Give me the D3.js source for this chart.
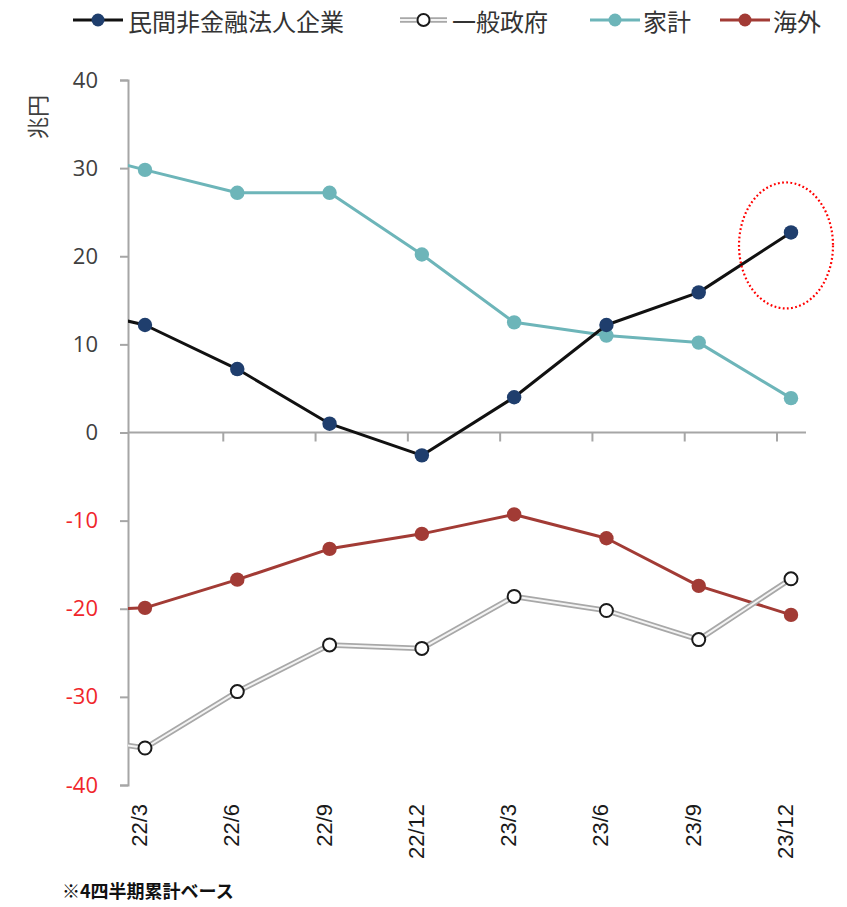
<!DOCTYPE html>
<html>
<head>
<meta charset="utf-8">
<script src="https://cdn.jsdelivr.net/npm/d3@7"></script>
<style>
  html, body { margin: 0; padding: 0; background: #fff; }
  svg { display: block; }
</style>
</head>
<body>
<svg id="chart" width="847" height="907"></svg>
<script>
// Quarter-end periods (4-quarter cumulative)
const periods = ["22/3", "22/6", "22/9", "22/12", "23/3", "23/6", "23/9", "23/12"];
// Value for the quarter before the first label (21/12); the line runs in from the axis edge
const priorPeriod = "21/12";

// 兆円
const corporate  = [12.2, 7.2, 1.0, -2.6, 4.0, 12.2, 15.9, 22.7];
const government = [-35.8, -29.4, -24.1, -24.5, -18.6, -20.2, -23.5, -16.6];
const household  = [29.8, 27.2, 27.2, 20.2, 12.5, 11.0, 10.2, 3.9];
const overseas   = [-19.9, -16.7, -13.2, -11.5, -9.3, -12.0, -17.4, -20.7];

const corporatePrior  = 14.6;
const governmentPrior = -34.3;
const householdPrior  = 32.5;
const overseasPrior   = -20.3;

const yTicks = [40, 30, 20, 10, 0, -10, -20, -30, -40];
const seriesNames = ["民間非金融法人企業", "一般政府", "家計", "海外"];
const unitLabel = "兆円";
const footnote = "※4四半期累計ベース";

const svg = d3.select("#chart");
const fontJP = "'Noto Sans CJK JP', 'Noto Sans', sans-serif";
const fontNum = "'Open Sans', 'Noto Sans', sans-serif";

const axisLeft = 128, axisRight = 806;
const x = d3.scaleLinear().domain([0, periods.length - 1]).range([145, 791]);
const y = d3.scaleLinear().domain([-40, 40]).range([785, 80]);

// Clip so that the lead-in segment from the prior quarter starts at the axis
svg.append("defs").append("clipPath").attr("id", "plot-clip")
  .append("rect").attr("x", axisLeft).attr("y", 0).attr("width", 847 - axisLeft).attr("height", 907);

// Y axis (plain hyphen for negatives)
const yAxis = d3.axisLeft(y).tickValues(yTicks).tickSize(8).tickPadding(22).tickFormat(d => String(d));
const gy = svg.append("g").attr("transform", `translate(${axisLeft},0)`).call(yAxis);
gy.select(".domain").attr("stroke", "#a6a6a6").attr("stroke-width", 2);
gy.selectAll(".tick line").attr("stroke", "#a6a6a6").attr("stroke-width", 2);
gy.selectAll(".tick text")
  .attr("font-family", fontNum).attr("font-size", 22)
  .attr("fill", d => d < 0 ? "#f0262b" : "#404040");

// Unit label
svg.append("text")
  .attr("transform", `translate(40,117) rotate(-90)`)
  .attr("text-anchor", "middle")
  .attr("dominant-baseline", "middle")
  .attr("font-family", fontJP).attr("font-size", 22).attr("fill", "#404040")
  .text(unitLabel);

// Zero line with category separator ticks
svg.append("line")
  .attr("x1", axisLeft).attr("x2", axisRight)
  .attr("y1", y(0)).attr("y2", y(0))
  .attr("stroke", "#a6a6a6").attr("stroke-width", 2);
svg.append("g").selectAll("line").data(d3.range(1, periods.length)).join("line")
  .attr("x1", i => x(i) - 14).attr("x2", i => x(i) - 14)
  .attr("y1", y(0)).attr("y2", y(0) + 9)
  .attr("stroke", "#a6a6a6").attr("stroke-width", 2);

// X labels (rotated)
svg.append("g").selectAll("text").data(periods).join("text")
  .attr("transform", (d, i) => `translate(${x(i) + 2},804) rotate(-90)`)
  .attr("text-anchor", "end")
  .attr("font-family", "'Liberation Sans', Arial, sans-serif").attr("font-size", 22).attr("fill", "#1a1a1a")
  .text(d => d);

// Series
const series = [
  { name: seriesNames[0], values: corporate,  prior: corporatePrior,  line: "#111111", marker: "#1f3e6d", type: "solid" },
  { name: seriesNames[1], values: government, prior: governmentPrior, line: "#a8a8a8", marker: "#ffffff", type: "double" },
  { name: seriesNames[2], values: household,  prior: householdPrior,  line: "#6db5b9", marker: "#6db5b9", type: "solid" },
  { name: seriesNames[3], values: overseas,   prior: overseasPrior,   line: "#a23b35", marker: "#a23b35", type: "solid" }
];

const lineGen = d3.line().x(d => x(d.i)).y(d => y(d.v));
const plot = svg.append("g").attr("clip-path", "url(#plot-clip)");

// Draw order: overseas, government, household, corporate on top
[3, 1, 2, 0].forEach(k => {
  const s = series[k];
  const pts = [{ i: -1, v: s.prior }].concat(s.values.map((v, i) => ({ i, v })));
  const g = plot.append("g");
  if (s.type === "double") {
    g.append("path").attr("d", lineGen(pts)).attr("fill", "none")
      .attr("stroke", "#a8a8a8").attr("stroke-width", 5.5).attr("stroke-linejoin", "round");
    g.append("path").attr("d", lineGen(pts)).attr("fill", "none")
      .attr("stroke", "#f4f4f4").attr("stroke-width", 2).attr("stroke-linejoin", "round");
    g.selectAll("circle").data(s.values).join("circle")
      .attr("cx", (d, i) => x(i)).attr("cy", d => y(d)).attr("r", 6.5)
      .attr("fill", "#fff").attr("stroke", "#1a1a1a").attr("stroke-width", 2);
  } else {
    g.append("path").attr("d", lineGen(pts)).attr("fill", "none")
      .attr("stroke", s.line).attr("stroke-width", 3).attr("stroke-linejoin", "round");
    g.selectAll("circle").data(s.values).join("circle")
      .attr("cx", (d, i) => x(i)).attr("cy", d => y(d)).attr("r", 7.2)
      .attr("fill", s.marker);
  }
});

// Highlight around the latest corporate value
const last = periods.length - 1;
svg.append("ellipse")
  .attr("cx", x(last) - 5).attr("cy", y(corporate[last]) + 13)
  .attr("rx", 47).attr("ry", 63)
  .attr("fill", "none").attr("stroke", "#ff0000").attr("stroke-width", 2.2)
  .attr("stroke-dasharray", "1.8,2.4");

// Legend
const legendItems = [
  { s: series[0], x0: 73, len: 50, tx: 128 },
  { s: series[1], x0: 400, len: 47, tx: 452 },
  { s: series[2], x0: 590, len: 50, tx: 643 },
  { s: series[3], x0: 720, len: 50, tx: 773 }
];
const ly = 20;
const lg = svg.append("g");
legendItems.forEach(({ s, x0, len, tx }) => {
  const x1 = x0 + len, xm = x0 + len / 2;
  if (s.type === "double") {
    lg.append("line").attr("x1", x0).attr("x2", x1).attr("y1", ly).attr("y2", ly)
      .attr("stroke", "#a8a8a8").attr("stroke-width", 5.5);
    lg.append("line").attr("x1", x0).attr("x2", x1).attr("y1", ly).attr("y2", ly)
      .attr("stroke", "#f4f4f4").attr("stroke-width", 2);
    lg.append("circle").attr("cx", xm).attr("cy", ly).attr("r", 6)
      .attr("fill", "#fff").attr("stroke", "#1a1a1a").attr("stroke-width", 2);
  } else {
    lg.append("line").attr("x1", x0).attr("x2", x1).attr("y1", ly).attr("y2", ly)
      .attr("stroke", s.line).attr("stroke-width", 3);
    lg.append("circle").attr("cx", xm).attr("cy", ly).attr("r", 6.5).attr("fill", s.marker);
  }
  lg.append("text").attr("x", tx).attr("y", ly)
    .attr("dominant-baseline", "central")
    .attr("font-family", fontJP).attr("font-size", 24).attr("fill", "#333")
    .text(s.name);
});

// Footnote
svg.append("text")
  .attr("x", 62).attr("y", 898)
  .attr("font-family", fontJP).attr("font-size", 18).attr("font-weight", "bold").attr("fill", "#111")
  .text(footnote);
</script>
</body>
</html>
